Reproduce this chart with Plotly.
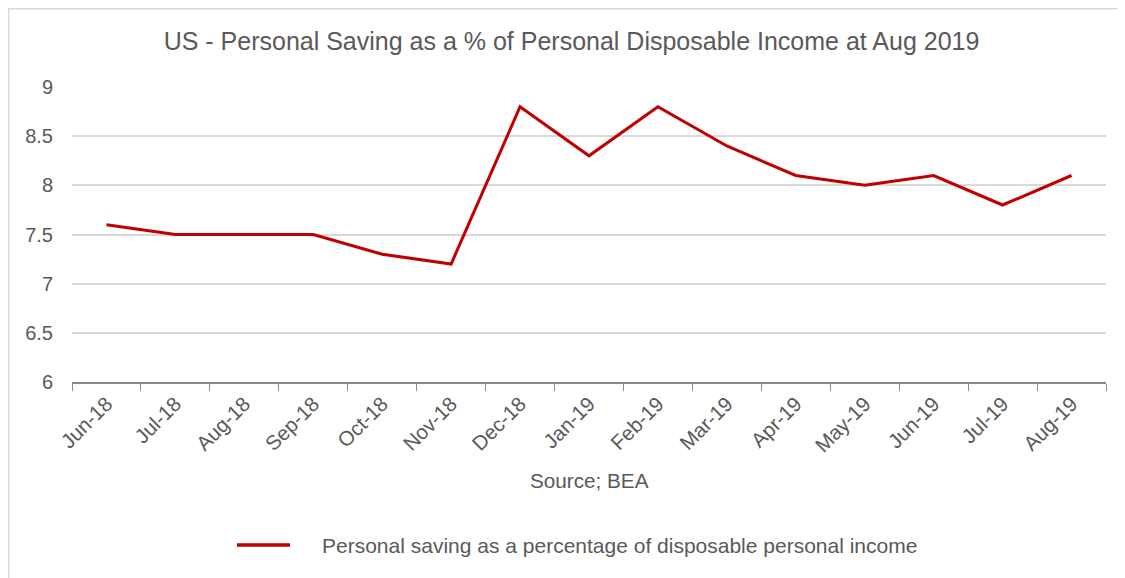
import plotly.graph_objects as go

months = ["Jun-18", "Jul-18", "Aug-18", "Sep-18", "Oct-18", "Nov-18", "Dec-18",
          "Jan-19", "Feb-19", "Mar-19", "Apr-19", "May-19", "Jun-19", "Jul-19", "Aug-19"]
saving_rate = [7.6, 7.5, 7.5, 7.5, 7.3, 7.2, 8.8, 8.3, 8.8, 8.4, 8.1, 8.0, 8.1, 7.8, 8.1]
series_name = "Personal saving as a percentage of disposable personal income"
source_text = "Source; BEA"
title_text = "US - Personal Saving as a % of Personal Disposable Income at Aug 2019"
y_ticks = [6, 6.5, 7, 7.5, 8, 8.5, 9]

FONT = "Liberation Sans, Arial, sans-serif"
GREY = "#595959"
RED = "#c00000"

# page is offset by 8px body margin
W, H = 1117, 570
L, R, T, B = 64, 19, 79, 196
pw = W - L - R
ph = H - T - B


def px_x(x):
    return (x - L) / pw


def px_y(y):
    return (H - B - y) / ph


fig = go.Figure()
fig.add_trace(go.Scatter(
    x=months, y=saving_rate, mode="lines", name=series_name,
    line=dict(color=RED, width=3), showlegend=False,
))

fig.update_layout(
    width=W, height=H,
    margin=dict(l=L, r=R, t=T, b=B),
    paper_bgcolor="white", plot_bgcolor="white",
    font=dict(family=FONT, color=GREY, size=20),
    title=dict(text=title_text, x=563.5 / W, xanchor="center",
               y=1 - 33 / H, yanchor="middle",
               font=dict(size=25, color=GREY)),
    showlegend=False,
    xaxis=dict(
        type="category", range=[-0.5, len(months) - 0.5],
        tickson="boundaries", ticks="outside", ticklen=7, tickcolor="#888888",
        showline=True, linecolor="#888888", linewidth=1.5,
        showgrid=False, tickangle=-45, tickfont=dict(size=20.5, color=GREY),
    ),
    yaxis=dict(
        range=[6, 9], tickvals=y_ticks, ticktext=[f"{v:g}" for v in y_ticks],
        showgrid=True, gridcolor="#d9d9d9", gridwidth=1.5,
        zeroline=False, showline=False, ticks="", ticklabelstandoff=18,
        tickfont=dict(size=20, color=GREY),
    ),
    shapes=[
        dict(type="rect", xref="paper", yref="paper",
             x0=px_x(0.75), x1=px_x(W + 20), y0=px_y(H + 20), y1=px_y(0.75),
             line=dict(color="#d9d9d9", width=1.5), fillcolor="rgba(0,0,0,0)", layer="below"),
        dict(type="line", xref="paper", yref="paper",
             x0=px_x(229), x1=px_x(282), y0=px_y(537), y1=px_y(537),
             line=dict(color=RED, width=3.5)),
    ],
    annotations=[
        dict(text=source_text, xref="paper", yref="paper", x=0.5, y=px_y(472),
             xanchor="center", yanchor="middle", showarrow=False,
             font=dict(size=20.7, color=GREY)),
        dict(text=series_name, xref="paper", yref="paper", x=px_x(312), y=px_y(537),
             xanchor="left", yanchor="middle", showarrow=False,
             font=dict(size=21, color=GREY)),
    ],
)

fig.write_html("out.html")
